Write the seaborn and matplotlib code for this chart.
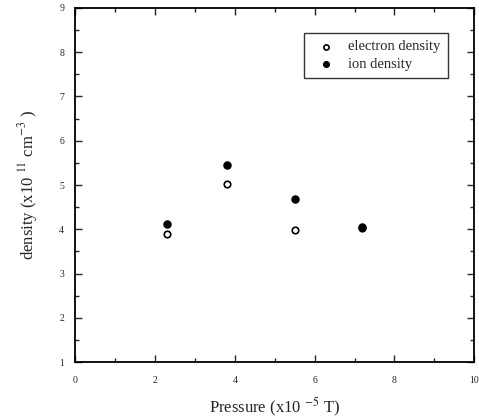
import matplotlib
matplotlib.use("Agg")
import matplotlib.pyplot as plt
import seaborn as sns
import pandas as pd
from matplotlib.ticker import MultipleLocator

pressure = [2.3, 3.8, 5.5, 7.2]
electron_density = [3.9, 5.03, 3.98, 4.03]
ion_density = [4.12, 5.45, 4.68, 4.05]

sns.set_style("ticks")
plt.rcParams['font.family'] = ['Liberation Serif', 'DejaVu Serif']
plt.rcParams['mathtext.fontset'] = 'stix'

fig = plt.figure(figsize=(4.79, 4.2), dpi=100)
ax = fig.add_axes([0.157, 0.138, 0.833, 0.843])

df_e = pd.DataFrame({"p": pressure, "d": electron_density})
df_i = pd.DataFrame({"p": pressure, "d": ion_density})

sns.scatterplot(data=df_e, x="p", y="d", ax=ax, marker="o", s=22,
                facecolor="white", edgecolor="black", linewidth=1.2,
                label="electron density", zorder=3)
sns.scatterplot(data=df_i, x="p", y="d", ax=ax, marker="o", s=26,
                color="black", edgecolor="black", linewidth=1.0,
                label="ion density", zorder=4)

ax.set_xlim(0, 10)
ax.set_ylim(1, 9)
ax.xaxis.set_major_locator(MultipleLocator(2))
ax.xaxis.set_minor_locator(MultipleLocator(1))
ax.yaxis.set_major_locator(MultipleLocator(1))
ax.yaxis.set_minor_locator(MultipleLocator(0.5))
ax.tick_params(which="both", direction="in", top=True, right=True, labelsize=7, width=1)
ax.tick_params(which="major", length=5)
ax.tick_params(which="minor", length=3)
ax.tick_params(axis="x", which="major", pad=10)
ax.tick_params(axis="y", which="major", pad=8)
for s in ax.spines.values():
    s.set_linewidth(1.3)
    s.set_color("black")

ax.set_xlabel("Pressure (x10 $^{-5}$ T)", fontsize=12, labelpad=8)
ax.set_ylabel("density (x10 $^{11}$ cm$^{-3}$ )", fontsize=12, labelpad=14)

leg = ax.legend(loc="upper right", bbox_to_anchor=(0.952, 0.95), fontsize=10.5,
                frameon=True, fancybox=False, edgecolor="black", handletextpad=0.5,
                borderpad=0.5, labelspacing=0.3, markerscale=0.8)
leg.get_frame().set_linewidth(1.0)

fig.savefig("out.png", dpi=100)
